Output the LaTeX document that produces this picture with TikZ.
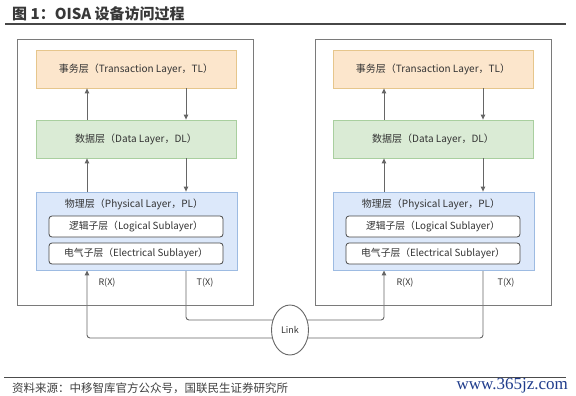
\documentclass[tikz,border=0pt]{standalone}
\usepackage{fontspec}
\newfontfamily\cjk{Noto Sans CJK SC}
\newfontfamily\wmfont{Liberation Serif}
\usetikzlibrary{arrows.meta,shapes.geometric,backgrounds}
\definecolor{tlfill}{HTML}{FCE6CC}
\definecolor{tldraw}{HTML}{E6C68C}
\definecolor{dlfill}{HTML}{DAEBD5}
\definecolor{dldraw}{HTML}{A9CF9F}
\definecolor{plfill}{HTML}{DCE8FA}
\definecolor{pldraw}{HTML}{9DBBE2}
\definecolor{framec}{HTML}{7A7A7A}
\definecolor{linec}{HTML}{666666}
\definecolor{txt}{HTML}{333333}
\definecolor{wmblue}{HTML}{1F3C8C}
\tikzset{
  every node/.style={font=\cjk, text=txt},
  frame/.style={draw=framec, line width=0.9pt},
  layerbox/.style={rectangle, line width=0.8pt, inner sep=0pt},
  tlbox/.style={layerbox, fill=tlfill, draw=tldraw},
  dlbox/.style={layerbox, fill=dlfill, draw=dldraw},
  plbox/.style={layerbox, fill=plfill, draw=pldraw},
  subbox/.style={rectangle, rounded corners=3pt, draw=txt!90, line width=0.8pt, fill=white, inner sep=0pt, font=\cjk\fontsize{9.8}{11}\selectfont},
  lbl/.style={font=\cjk\fontsize{10}{12}\selectfont},
  sml/.style={font=\cjk\fontsize{9}{11}\selectfont},
  conn/.style={draw=linec, line width=0.9pt},
  arr/.style={conn, -{Triangle[width=4.5pt,length=5pt]}},
  wire/.style={conn, rounded corners=3pt}
}
\begin{document}
\begin{tikzpicture}[x=1pt,y=-1pt]
\useasboundingbox (0,0) rectangle (576,396);
% title
\node[anchor=west, inner sep=0pt, font=\cjk\bfseries\fontsize{15}{18}\selectfont, text=black!78] (title) at (12,14) {图 1：OISA 设备访问过程};
\draw[draw=black!72, line width=1.1pt] (5,24) -- (566,24);
% frames
\draw[frame] (17,39) rectangle (253,305);
\draw[frame] (315,39) rectangle (551,305);
% left stack
\node[tlbox, minimum width=200pt, minimum height=38pt] (tlA) at (136,69) {};
\node[lbl] at (tlA.center) {事务层（Transaction Layer，TL）};
\node[dlbox, minimum width=200pt, minimum height=38pt] (dlA) at (136,139) {};
\node[lbl] at (dlA.center) {数据层（Data Layer，DL）};
\node[plbox, minimum width=201pt, minimum height=78pt] (plA) at (136.5,231) {};
\node[lbl] (plAl) at (134,204) {物理层（Physical Layer，PL）};
\node[subbox, minimum width=174pt, minimum height=21pt] (logA) at (136,226.5) {逻辑子层（Logical Sublayer）};
\node[subbox, minimum width=174pt, minimum height=21pt] (eleA) at (136,253.5) {电气子层（Electrical Sublayer）};
% right stack
\node[tlbox, minimum width=200pt, minimum height=38pt] (tlB) at (433,69) {};
\node[lbl] at (tlB.center) {事务层（Transaction Layer，TL）};
\node[dlbox, minimum width=200pt, minimum height=38pt] (dlB) at (433,139) {};
\node[lbl] at (dlB.center) {数据层（Data Layer，DL）};
\node[plbox, minimum width=201pt, minimum height=78pt] (plB) at (433.5,231) {};
\node[lbl] (plBl) at (431,204) {物理层（Physical Layer，PL）};
\node[subbox, minimum width=174pt, minimum height=21pt] (logB) at (433,226.5) {逻辑子层（Logical Sublayer）};
\node[subbox, minimum width=174pt, minimum height=21pt] (eleB) at (433,253.5) {电气子层（Electrical Sublayer）};
% vertical arrows left
\draw[arr] (dlA.north -| 87,0) -- (tlA.south -| 87,0);
\draw[arr] (tlA.south -| 186,0) -- (dlA.north -| 186,0);
\draw[arr] (plA.north -| 87,0) -- (dlA.south -| 87,0);
\draw[arr] (dlA.south -| 186,0) -- (plA.north -| 186,0);
% vertical arrows right
\draw[arr] (dlB.north -| 384,0) -- (tlB.south -| 384,0);
\draw[arr] (tlB.south -| 483,0) -- (dlB.north -| 483,0);
\draw[arr] (plB.north -| 384,0) -- (dlB.south -| 384,0);
\draw[arr] (dlB.south -| 483,0) -- (plB.north -| 483,0);
% labels
\node[sml] (rxA) at (107,283) {R(X)};
\node[sml] (txA) at (205,283) {T(X)};
\node[sml] (rxB) at (405,283) {R(X)};
\node[sml] (txB) at (506,283) {T(X)};
% link
\node[ellipse, draw=linec, line width=0.9pt, fill=white, minimum width=37pt, minimum height=50pt, inner sep=0pt, sml] (link) at (290,330) {Link};
\coordinate (c1) at (186,320);
\coordinate (c2) at (384,320);
\coordinate (c3) at (483,338);
\coordinate (c4) at (87,338);
\begin{pgfonlayer}{background}
\draw[wire] (plA.south -| c1) -- (c1) -- (link.center |- c1);
\draw[wire, -{Triangle[width=4.5pt,length=5pt]}] (link.center |- c2) -- (c2) -- (plB.south -| c2);
\draw[wire] (plB.south -| c3) -- (c3) -- (link.center |- c3);
\draw[wire, -{Triangle[width=4.5pt,length=5pt]}] (link.center |- c4) -- (c4) -- (plA.south -| c4);
\end{pgfonlayer}
% footer
\draw[draw=black!70, line width=0.9pt] (4,377) -- (566,377);
\node[anchor=west, inner sep=0pt, font=\cjk\fontsize{11.5}{13}\selectfont, text=black!75] (src) at (12,388) {资料来源：中移智库官方公众号，国联民生证券研究所};
\node[anchor=east, inner sep=0pt, font=\wmfont\fontsize{17}{19}\selectfont, text=wmblue] (wm) at (568,386) {www.365jz.com};
\end{tikzpicture}
\end{document}
